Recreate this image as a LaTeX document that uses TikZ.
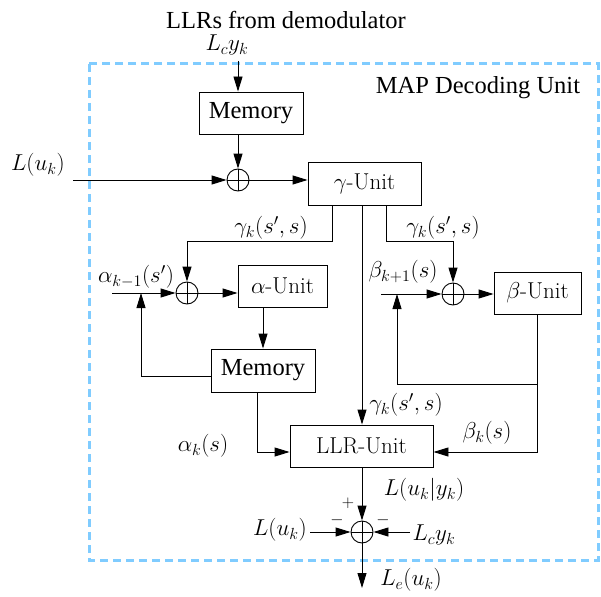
\RequirePackage{fix-cm}
\documentclass[tikz,border=0pt]{standalone}
\usepackage{fontspec}
\newfontfamily\timesfont{Liberation Serif}
\usetikzlibrary{arrows.meta}
\definecolor{boxblue}{RGB}{128,204,255}
\begin{document}
\begin{tikzpicture}[x=1pt,y=-1pt,
  font=\fontsize{23}{27}\selectfont,
  wire/.style={line width=0.9pt},
  arr/.style={wire,-{Triangle[length=15pt,width=9pt]}},
  blk/.style={draw,line width=0.9pt,inner sep=0pt},
  tms/.style={font=\timesfont\fontsize{24.5}{28}\selectfont},
  sumnode/.style={circle,draw,line width=0.9pt,minimum size=22pt,inner sep=0pt,
    path picture={\draw[line width=0.9pt]
      (path picture bounding box.north) -- (path picture bounding box.south)
      (path picture bounding box.west) -- (path picture bounding box.east);}},
  sgn/.style={font=\fontsize{17}{20}\selectfont,inner sep=0pt},
  mapbox/.style={draw=boxblue,line width=3pt,dash pattern=on 8pt off 5pt}
]
\useasboundingbox (0,0) rectangle (601,596);

% decoder frame
\draw[mapbox] (89,64) rectangle (598,560);
\node[tms] (maplbl) at (478,88) {MAP Decoding Unit};

% blocks
\node[blk,tms,minimum width=104pt,minimum height=42pt] (mem1) at (251,113) {Memory};
\node[blk,minimum width=113pt,minimum height=43pt] (gamma) at (364.5,183.5) {$\gamma$-Unit};
\node[blk,minimum width=89pt,minimum height=42pt] (alpha) at (282.5,286) {$\alpha$-Unit};
\node[blk,tms,minimum width=104pt,minimum height=43pt] (mem2) at (263,370.5) {Memory};
\node[blk,minimum width=87pt,minimum height=42pt] (beta) at (537.5,293) {$\beta$-Unit};
\node[blk,minimum width=143pt,minimum height=42pt] (llr) at (361.5,446) {LLR-Unit};

% adders
\node[sumnode] (s1) at (238,180) {};
\node[sumnode] (s2) at (187,293) {};
\node[sumnode] (s3) at (453,294) {};
\node[sumnode] (s4) at (362,532) {};

% free ends and corners
\coordinate (lcin) at (238,61);
\coordinate (luin) at (73,180);
\coordinate (gl) at (332,241);
\coordinate (gr) at (386,241);
\coordinate (ain) at (112,293);
\coordinate (afb) at (141,293);
\coordinate (fbA) at (141,376);
\coordinate (llrin) at (257,452);
\coordinate (bin) at (381,294);
\coordinate (bup) at (397,294);
\coordinate (bfb) at (537,384);
\coordinate (bll) at (537,452);
\coordinate (lu2) at (310,532);
\coordinate (lc2) at (410,532);
\coordinate (leout) at (362,588);

% input path
\draw[arr] (lcin) -- (mem1.north -| s1);
\draw[arr] (mem1.south -| s1) -- (s1);
\draw[arr] (luin) -- (s1);
\draw[arr] (s1) -- (gamma.west |- s1);

% branch metrics to the recursions
\draw[arr] (gamma.south -| gl) -- (gl) -| (s2);
\draw[arr] (gamma.south -| gr) -- (gr) -| (s3);
\draw[arr] (gamma.south -| s4) -- (llr.north -| s4);

% forward recursion
\draw[arr] (ain) -- (s2);
\draw[arr] (s2) -- (alpha.west |- s2);
\draw[arr] (alpha.south -| mem2) -- (mem2.north);
\draw[arr] (mem2.west |- fbA) -- (fbA) -- (afb);
\draw[arr] (mem2.south -| llrin) -- (llrin) -- (llr.west |- llrin);

% backward recursion
\draw[arr] (bin) -- (s3);
\draw[arr] (s3) -- (beta.west |- s3);
\draw[wire] (beta.south -| bfb) -- (bfb);
\draw[arr] (bfb) -| (bup);
\draw[arr] (bfb) -- (bll) -- (llr.east |- bll);

% extrinsic output
\draw[arr] (llr.south -| s4) -- (s4);
\draw[arr] (lu2) -- (s4);
\draw[arr] (lc2) -- (s4);
\draw[arr] (s4) -- (leout);

% labels
\node[tms] (title) at (286,20) {LLRs from demodulator};
\node (lcy) at (227,45) {$L_c y_k$};
\node (lu) at (38,165) {$L(u_k)$};
\node (gk1) at (271,228) {$\gamma_k(s',s)$};
\node (gk2) at (443,228) {$\gamma_k(s',s)$};
\node (akm) at (136,277) {$\alpha_{k-1}(s')$};
\node (bkp) at (403,272) {$\beta_{k+1}(s)$};
\node (gk3) at (406,405) {$\gamma_k(s',s)$};
\node (ak) at (203,446) {$\alpha_k(s)$};
\node (bk) at (487,433) {$\beta_k(s)$};
\node (luy) at (424,490) {$L(u_k|y_k)$};
\node[sgn] (plus) at (348,503) {$+$};
\node[sgn] (mina) at (337,520) {$-$};
\node[sgn] (minb) at (383,520) {$-$};
\node (lu3) at (280,530) {$L(u_k)$};
\node (lcy2) at (434,535) {$L_c y_k$};
\node (le) at (411,580) {$L_e(u_k)$};
\end{tikzpicture}
\end{document}
